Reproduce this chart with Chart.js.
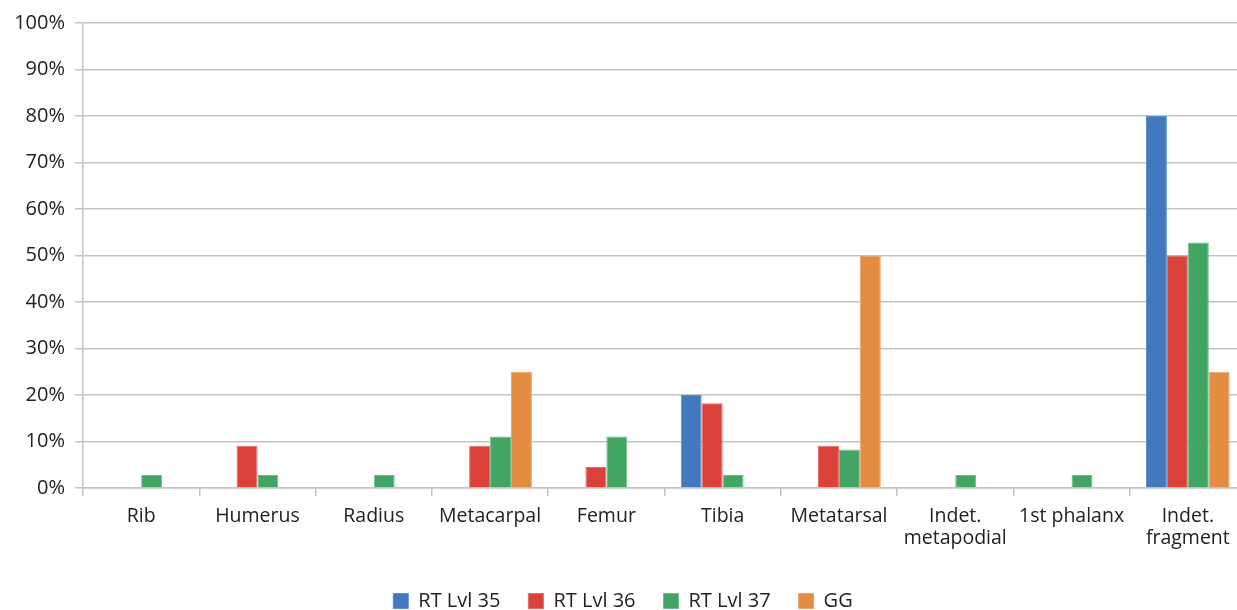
<!DOCTYPE html>
<html>
<head>
<meta charset="utf-8">
<script src="https://cdn.jsdelivr.net/npm/chart.js@4"></script>
<style>
  html, body { margin: 0; padding: 0; background: #fff; overflow: hidden; }
  #wrap { width: 1250px; height: 610px; }
</style>
</head>
<body>
<div id="wrap"><canvas id="c"></canvas></div>
<script>
const categories = ['Rib', 'Humerus', 'Radius', 'Metacarpal', 'Femur', 'Tibia', 'Metatarsal',
  ['Indet.', 'metapodial'], '1st phalanx', ['Indet.', 'fragment']];
const lvl35 = [0, 0, 0, 0, 0, 20, 0, 0, 0, 80];
const lvl36 = [0, 9.1, 0, 9.1, 4.5, 18.2, 9.1, 0, 0, 50];
const lvl37 = [2.8, 2.8, 2.8, 11.1, 11.1, 2.8, 8.3, 2.8, 2.8, 52.8];
const gg = [0, 0, 0, 25, 0, 0, 50, 0, 0, 25];

const FONT = '"Open Sans", "Noto Sans", sans-serif';
const GRID = '#c4c4c4';

function ds(label, data, color, border) {
  return { label, data, backgroundColor: color, borderColor: border, borderWidth: 1,
    barPercentage: 1, categoryPercentage: 0.72 };
}

new Chart(document.getElementById('c'), {
  type: 'bar',
  data: {
    labels: categories,
    datasets: [
      ds('RT Lvl 35', lvl35, '#4279BE', '#5b8fcc'),
      ds('RT Lvl 36', lvl36, '#DA4139', '#e86a62'),
      ds('RT Lvl 37', lvl37, '#42A564', '#6cbe88'),
      ds('GG', gg, '#E38D42', '#eda56a'),
    ],
  },
  options: {
    responsive: true,
    maintainAspectRatio: false,
    animation: false,
    layout: { padding: { top: 23, right: 4, left: 0, bottom: -11 } },
    scales: {
      x: {
        grid: { display: true, drawOnChartArea: false, offset: true, color: GRID, lineWidth: 1.5, tickLength: 8 },
        border: { color: GRID, width: 1.5 },
        ticks: { color: '#222', font: { family: FONT, size: 19.5, lineHeight: 1.15 }, padding: 9, maxRotation: 0, autoSkip: false },
        afterFit: (s) => { s.height = 75; },
      },
      y: {
        min: 0, max: 100,
        grid: { color: GRID, lineWidth: 1.5, tickLength: 8 },
        border: { color: GRID, width: 1.5 },
        ticks: { stepSize: 10, color: '#222', font: { family: FONT, size: 20 }, padding: 10,
          callback: (v) => v + '%' },
        afterFit: (s) => { s.width = 83; },
      },
    },
    plugins: {
      legend: {
        position: 'bottom',
        labels: { color: '#222', font: { family: FONT, size: 20 }, boxWidth: 15, boxHeight: 15, padding: 28 },
      },
      tooltip: { enabled: false },
    },
  },
});
</script>
</body>
</html>
